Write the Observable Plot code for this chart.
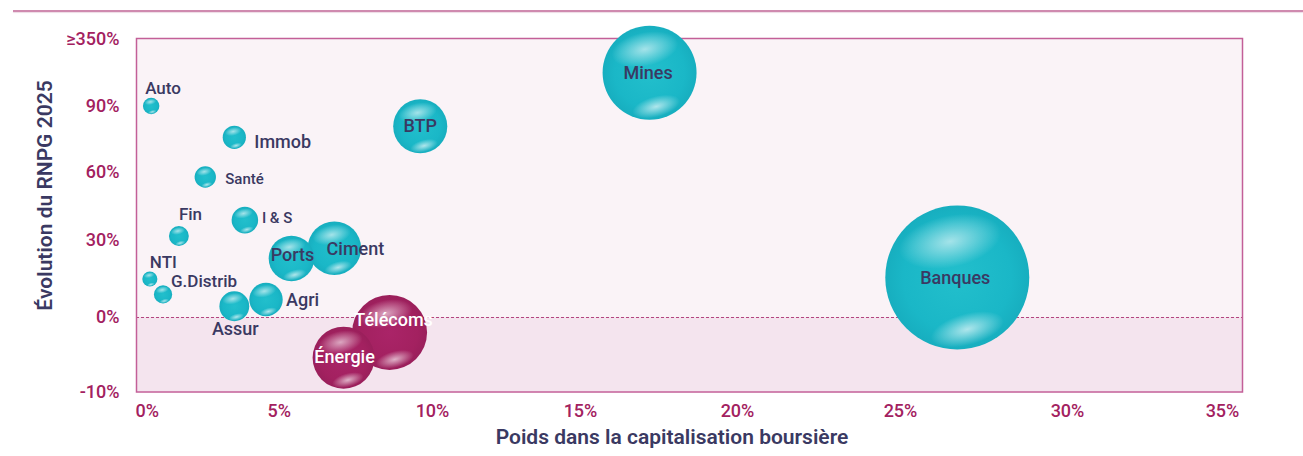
<!DOCTYPE html>
<html><head><meta charset="utf-8">
<script src="https://cdn.jsdelivr.net/npm/d3@7"></script>
<script src="https://cdn.jsdelivr.net/npm/@observablehq/plot@0.6"></script>
<style>
body{margin:0;background:#fff;font-family:Roboto,"Noto Sans",sans-serif;}
#wrap{position:relative;width:1303px;height:456px;}
#topline{position:absolute;left:13px;right:0;top:10px;height:2px;background:#cf8aaf;box-shadow:0 1px 1px #eedbe5;}
#wrap svg{display:block;}
</style></head><body>
<svg width="0" height="0" style="position:absolute">
  <defs>
    <radialGradient id="gt" cx="50%" cy="50%" r="50%">
      <stop offset="0%" stop-color="#22bfcc"/>
      <stop offset="75%" stop-color="#1ab7c7"/>
      <stop offset="100%" stop-color="#17aebf"/>
    </radialGradient>
    <radialGradient id="gm" cx="50%" cy="50%" r="50%">
      <stop offset="0%" stop-color="#aa2468"/>
      <stop offset="75%" stop-color="#a32160"/>
      <stop offset="100%" stop-color="#9a1f5b"/>
    </radialGradient>
    <radialGradient id="hl" cx="0.45" cy="0.25" r="0.36" gradientTransform="translate(0.45,0.25) rotate(-12) scale(1,0.5) translate(-0.45,-0.25)">
      <stop offset="0%" stop-color="#fff" stop-opacity="0.6"/>
      <stop offset="100%" stop-color="#fff" stop-opacity="0"/>
    </radialGradient>
    <radialGradient id="bl" cx="0.57" cy="0.86" r="0.26" gradientTransform="translate(0.57,0.86) rotate(-15) scale(1,0.42) translate(-0.57,-0.86)">
      <stop offset="0%" stop-color="#fff" stop-opacity="0.65"/>
      <stop offset="100%" stop-color="#fff" stop-opacity="0"/>
    </radialGradient>
  </defs>
</svg>
<div id="wrap"><div id="topline"></div></div>
<script>
// Données
const secteurs  = ["Banques","Mines","Télécoms","Énergie","BTP","Ports","Ciment","Assur","Agri","I & S","Immob","Santé","Fin","G.Distrib","Auto","NTI"];
const poids     = [26.7, 17.2, 8.6, 7.1, 9.6, 5.4, 6.8, 3.3, 4.5, 3.7, 3.3, 2.2, 1.2, 0.6, 0.15, 0.1];
const evolution = [15.6, 221, -2.0, -5.4, 81, 23, 27, 4.4, 7, 39, 76, 58, 32, 9, 92, 15];
const taille    = [100, 42.6, 27.1, 18.5, 14.1, 10.0, 13.8, 4.3, 5.4, 3.4, 2.6, 2.2, 1.9, 1.6, 1.3, 1.1];
const xTicks = [0, 5, 10, 15, 20, 25, 30, 35];
const yTicks = [-10, 0, 30, 60, 90, 350];

const rows = secteurs.map((s, i) => ({secteur: s, poids: poids[i], evol: evolution[i], taille: taille[i]}));

// Placement des étiquettes (dx, dy, ancrage, taille de police)
const place = {
  "Banques": [-2, 1, "middle", 18],
  "Mines": [-1.5, 0, "middle", 18],
  "Télécoms": [4, -12, "middle", 18],
  "Énergie": [1, 0, "middle", 18],
  "BTP": [0, 0, "middle", 18],
  "Ports": [1, -3, "middle", 18],
  "Ciment": [21, 1, "middle", 18],
  "Assur": [1, 23, "middle", 18],
  "Agri": [20, 1, "start", 18],
  "I & S": [17, -2, "start", 15],
  "Immob": [20, 5, "start", 18],
  "Santé": [20, 2, "start", 15],
  "Fin": [0, -21, "start", 17],
  "G.Distrib": [8, -13, "start", 17],
  "Auto": [-6, -17, "start", 17],
  "NTI": [0, -16, "start", 17]
};

const navy = "#3a3962";
const magenta = "#a3215f";

const chart = Plot.plot({
  width: 1303,
  height: 456,
  marginLeft: 136,
  marginRight: 61,
  marginTop: 38,
  marginBottom: 64.5,
  style: {fontFamily: "Roboto, sans-serif", background: "transparent"},
  x: {type: "linear", domain: xTicks, range: [146.7, 278.7, 432, 580, 737, 900, 1067, 1222]},
  y: {type: "linear", domain: yTicks, range: [391.5, 317, 240, 172, 106, 39]},
  r: {type: "sqrt", domain: [0, 100], range: [0, 72]},
  marks: [
    Plot.frame({fill: "#faf3f7"}),
    Plot.rect([{}], {y1: -10, y2: 0, fill: "#f4e4ee"}),
    Plot.ruleY([0], {stroke: "#b3457f", strokeWidth: 1, strokeDasharray: "3,2"}),
    Plot.frame({stroke: "#c35f98", strokeWidth: 1.5}),
    Plot.axisX({ticks: xTicks, tickSize: 0, tickPadding: 12, tickFormat: d => d + "%", fontSize: 18, fontWeight: 500, fill: magenta, label: null}),
    Plot.axisY({ticks: yTicks, tickSize: 0, tickPadding: 17, tickFormat: d => d === 350 ? "≥350%" : d + "%", fontSize: 18, fontWeight: 500, fill: magenta, label: null}),
    Plot.dot(rows, {x: "poids", y: "evol", r: "taille", fill: d => d.evol < 0 ? "url(#gm)" : "url(#gt)"}),
    Plot.dot(rows, {x: "poids", y: "evol", r: "taille", fill: "url(#hl)"}),
    Plot.dot(rows, {x: "poids", y: "evol", r: "taille", fill: "url(#bl)"}),
    ...rows.map(d => Plot.text([d], {
      x: "poids", y: "evol", text: "secteur",
      dx: place[d.secteur][0], dy: place[d.secteur][1],
      textAnchor: place[d.secteur][2], fontSize: place[d.secteur][3],
      fontWeight: 500, fill: d.evol < 0 ? "white" : navy
    })),
    Plot.text(["Poids dans la capitalisation boursière"], {frameAnchor: "bottom", dx: -17.5, dy: 51.5, fontSize: 21, fontWeight: 600, fill: navy, textAnchor: "middle"}),
    Plot.text(["Évolution du RNPG 2025"], {frameAnchor: "top-left", dx: -99.5, dy: 157, rotate: -90, fontSize: 21, fontWeight: 600, fill: navy, textAnchor: "middle"})
  ]
});
document.getElementById("wrap").appendChild(chart);
</script>
</body></html>
